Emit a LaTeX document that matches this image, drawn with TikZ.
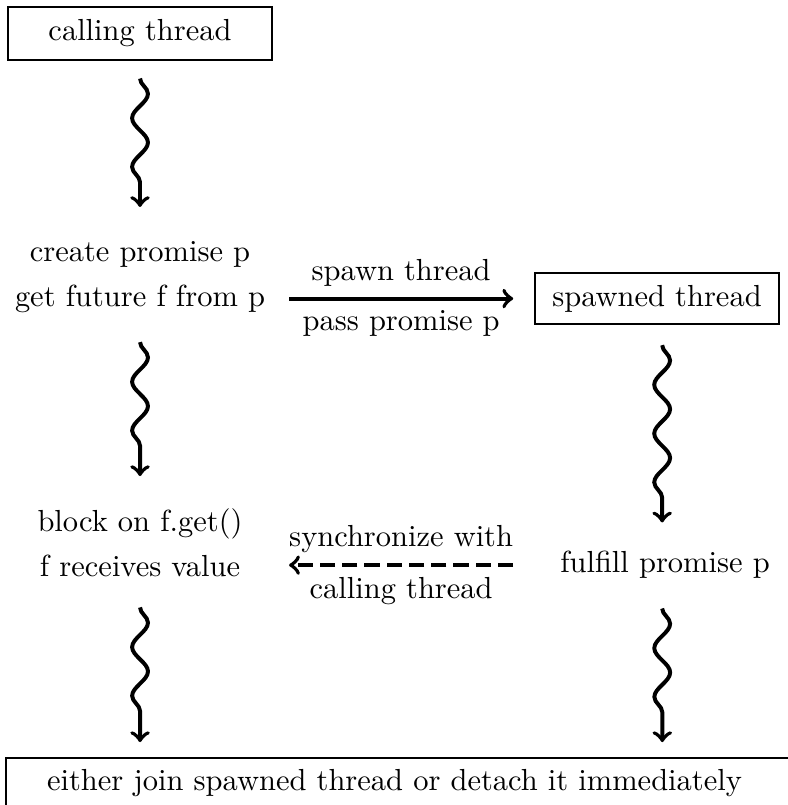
\documentclass[tikz,border=0pt]{standalone}
\usepackage[svgnames, dvipsnames, usenames]{xcolor}
\usepackage{amsmath}
\usepackage{tikz}
\usetikzlibrary{arrows,decorations.pathmorphing}

\tikzset{
  thread/.style={draw, line width=0.6pt, minimum height=17.4pt},
  flow/.style={->, line width=1.3pt},
  wavy/.style={->, line width=1.3pt, decorate,
    decoration={snake, amplitude=2.6pt, segment length=16pt, post length=5pt}},
}

\begin{document}
\begin{tikzpicture}[thick, scale=1.153]
%%%%% Frame %%%%%
\useasboundingbox (0,0) rectangle (7.87,-8.05);
%%%%% Steps %%%%%
\node[thread, minimum width=86.6pt] (caller) at (1.40,-0.335) {calling thread};
\node[align=center] (create) at (1.40,-2.775) {create promise p\\[2.75pt]get future f from p};
\node[thread, minimum width=80pt, minimum height=16.7pt] (spawned) at (6.57,-2.985) {spawned thread};
\node[align=center] (block) at (1.40,-5.425) {block on f.get()\\[2.75pt]f receives value};
\node (fulfill) at (6.65,-5.65) {fulfill promise p};
\node (finish) at (3.945,-7.83) {either join spawned thread or detach it immediately};
\draw[line width=0.6pt] ([xshift=-8.4pt]finish.north west) rectangle ([xshift=14pt, yshift=-10pt]finish.south east);
\coordinate (spawnedS) at (6.62,-3.24);
\coordinate (finishL) at (block.south |- finish.north);
\coordinate (finishR) at (spawnedS |- finish.north);
%%%%% Threads %%%%%
\draw[wavy] ([yshift=-5pt]caller.south) -- (1.40,-2.07);
\foreach \a/\b/\s/\e in {create.south/block.north/5pt/6pt, block.south/finishL/5.5pt/4.6pt}{
\draw[wavy] ([yshift=-\s]\a) -- ([yshift=\e]\b);
}
\draw[wavy] ([yshift=-6pt]spawnedS) -- ([yshift=5pt]spawnedS |- fulfill.north);
\draw[wavy] ([yshift=-5.2pt]spawnedS |- fulfill.south) -- ([yshift=4.6pt]finishR);
%%%%% Messages %%%%%
\draw[flow] ([xshift=3.6pt]create.east |- spawned.west) -- ([xshift=-6pt]spawned.west)
  node[midway, above] {spawn thread} node[midway, below] {pass promise p};
\draw[flow, dash pattern=on 5pt off 2.3pt] ([xshift=-6pt]spawned.west |- fulfill.west) -- ([xshift=3.6pt]create.east |- fulfill.west)
  node[midway, above] {synchronize with} node[midway, below] {calling thread};
\end{tikzpicture}
\end{document}
